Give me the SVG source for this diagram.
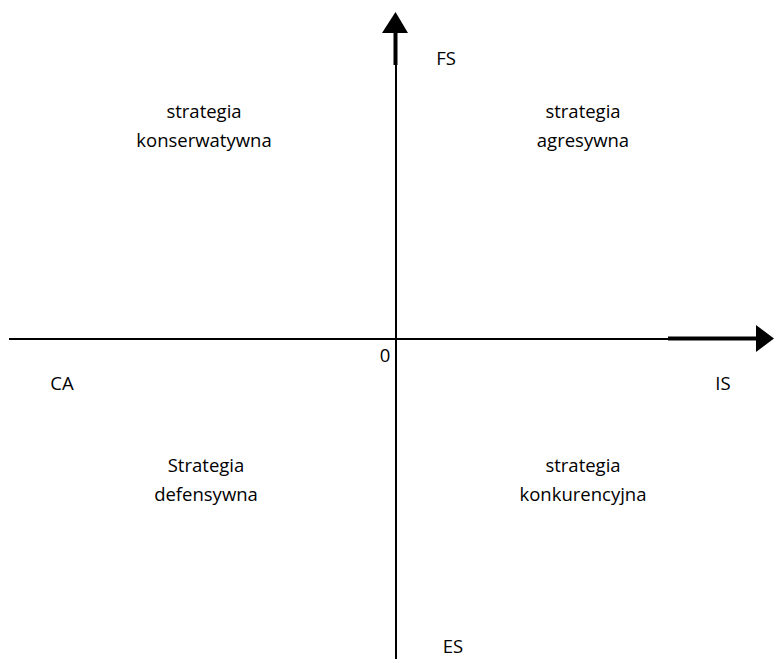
<svg xmlns="http://www.w3.org/2000/svg" width="774" height="659" viewBox="0 0 774 659">
  <style>
    text { font-family: "Open Sans", "Liberation Sans", sans-serif; font-size: 18.5px; fill: #000; }
    .c { text-anchor: middle; }
    .axis { stroke: #000; stroke-width: 2; fill: none; }
    .thick { stroke: #000; stroke-width: 4; fill: none; }
  </style>
  <rect width="774" height="659" fill="#fff"/>
  <g id="connectors">
    <!-- horizontal axis -->
    <line class="axis" x1="9" y1="339" x2="668" y2="339"/>
    <line class="thick" x1="668" y1="338.5" x2="758" y2="338.5"/>
    <polygon points="756,325 774,338.5 756,352" fill="#000"/>
    <!-- vertical axis -->
    <line class="axis" x1="396" y1="659" x2="396" y2="65"/>
    <line class="thick" x1="395.5" y1="65" x2="395.5" y2="30"/>
    <polygon points="382,33 395.5,12 408,33" fill="#000"/>
  </g>
  <g id="axis-labels">
    <text x="446" y="65" class="c">FS</text>
    <text x="453" y="653" class="c">ES</text>
    <text x="62" y="390" class="c">CA</text>
    <text x="723" y="390" class="c">IS</text>
    <text x="385" y="362" class="c">0</text>
  </g>
  <g id="q-konserwatywna">
    <text x="204" y="118" class="c">strategia</text>
    <text x="204" y="147" class="c">konserwatywna</text>
  </g>
  <g id="q-agresywna">
    <text x="583" y="118" class="c">strategia</text>
    <text x="583" y="147" class="c">agresywna</text>
  </g>
  <g id="q-defensywna">
    <text x="206" y="472" class="c">Strategia</text>
    <text x="206" y="501" class="c">defensywna</text>
  </g>
  <g id="q-konkurencyjna">
    <text x="583" y="472" class="c">strategia</text>
    <text x="583" y="501" class="c">konkurencyjna</text>
  </g>
</svg>
